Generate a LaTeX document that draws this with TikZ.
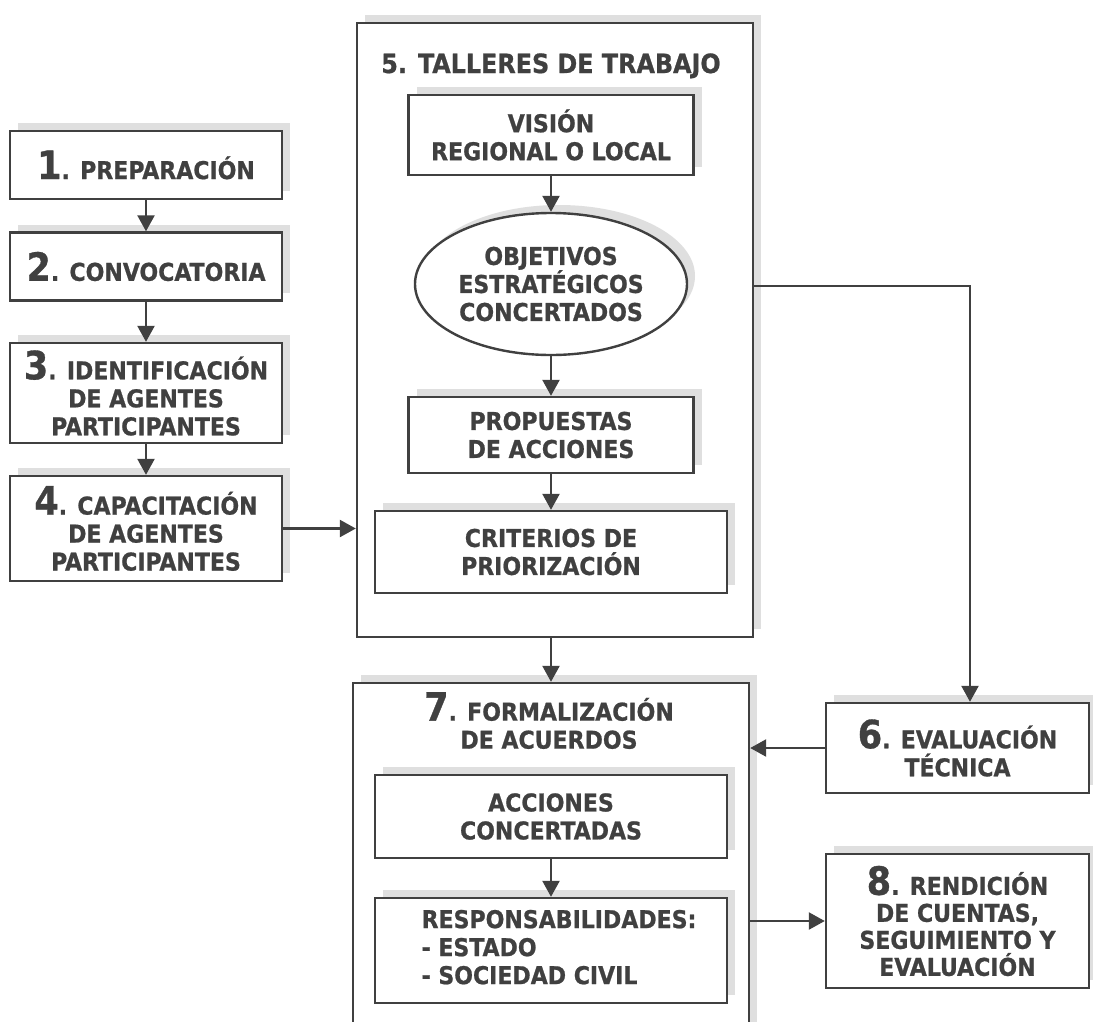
\documentclass[tikz,border=0pt]{standalone}
\usepackage{fontspec}
\setmainfont{DejaVu Sans Condensed}[BoldFeatures={FakeBold=0.8}]
\usetikzlibrary{arrows.meta,shapes.geometric,shadows}
\definecolor{dk}{HTML}{404040}
\definecolor{shg}{HTML}{DFDFDF}
\newcommand{\bnum}[1]{{\fontsize{39}{39}\selectfont #1}}
\begin{document}
\begin{tikzpicture}[x=1pt,y=-1pt,
  box/.style={rectangle, draw=dk, line width=2.4pt, fill=white, inner sep=0pt,
    align=center, text=dk, font=\fontsize{24.5}{28}\selectfont\bfseries,
    drop shadow={shadow xshift=8pt,shadow yshift=8pt,fill=shg,opacity=1}},
  ttl/.style={text=dk, inner sep=0pt, align=center, font=\fontsize{24.5}{28}\selectfont\bfseries},
  arr/.style={draw=dk, line width=2.4pt, -{Triangle[width=17pt,length=16pt]}},
]
\useasboundingbox (0,0) rectangle (1093,1021);
\clip (0,0) rectangle (1093,1021);

% left column
\node[box, minimum width=272pt, minimum height=68pt] (b1) at (146,165) {\bnum{1}. PREPARACIÓN};
\node[box, minimum width=272pt, minimum height=68pt] (b2) at (146,266.5) {\bnum{2}. CONVOCATORIA};
\node[box, minimum width=272pt, minimum height=100pt] (b3) at (146,393) {\bnum{3}. IDENTIFICACIÓN\\DE AGENTES\\PARTICIPANTES};
\node[box, minimum width=272pt, minimum height=105pt] (b4) at (146,528.5) {\bnum{4}. CAPACITACIÓN\\DE AGENTES\\PARTICIPANTES};

% box 5
\node[box, minimum width=396pt, minimum height=614pt] (b5) at (555,330) {};
\node[ttl, anchor=base, font=\fontsize{26.5}{28}\selectfont\bfseries] (t5) at (551,73) {5. TALLERES DE TRABAJO};
\node[box, minimum width=285pt, minimum height=80pt] (vis) at (551,135) {VISIÓN\\REGIONAL O LOCAL};
\node[box, ellipse, minimum width=272pt, minimum height=142pt] (obj) at (551,284) {OBJETIVOS\\ESTRATÉGICOS\\CONCERTADOS};
\node[box, minimum width=285pt, minimum height=76pt] (prop) at (551,435) {PROPUESTAS\\DE ACCIONES};
\node[box, minimum width=352pt, minimum height=82pt] (crit) at (551,552) {CRITERIOS DE\\PRIORIZACIÓN};

% box 7
\node[box, minimum width=396pt, minimum height=357pt] (b7) at (551,861.5) {};
\node[ttl, anchor=north] (t7) at (549,692) {\bnum{7}. FORMALIZACIÓN\\DE ACUERDOS};
\node[box, minimum width=352pt, minimum height=83pt] (acc) at (551,816.5) {ACCIONES\\CONCERTADAS};
\node[box, minimum width=352pt, minimum height=105pt, align=left] (resp) at (551,950.5)
  {\hspace*{16pt}\begin{tabular}{@{}l@{}}RESPONSABILIDADES:\\- ESTADO\\- SOCIEDAD CIVIL\end{tabular}};

% right column
\node[box, minimum width=263pt, minimum height=90pt] (b6) at (957.5,748) {\bnum{6}. EVALUACIÓN\\TÉCNICA};
\node[box, minimum width=263pt, minimum height=134pt, font=\fontsize{24.5}{27}\selectfont\bfseries] (b8) at (957.5,921)
  {\bnum{8}. RENDICIÓN\\DE CUENTAS,\\SEGUIMIENTO Y\\EVALUACIÓN};

\coordinate (k) at (970,286);

% connectors
\draw[arr] (b1.south) -- (b2.north);
\draw[arr] (b2.south) -- (b3.north);
\draw[arr] (b3.south) -- (b4.north);
\draw[arr] (b4.east) -- (b4.east -| b5.west);
\draw[arr] (vis.south) -- (obj.north);
\draw[arr] (obj.south) -- (prop.north);
\draw[arr] (prop.south) -- (crit.north);
\draw[arr] (acc.north |- b5.south) -- (acc.north |- b7.north);
\draw[arr] (acc.south) -- (resp.north);
\draw[arr] (b5.east |- k) -| (k |- b6.north);
\draw[arr] (b6.west) -- (b6.west -| b7.east);
\draw[arr] (b7.east |- b8.west) -- (b8.west);
\end{tikzpicture}
\end{document}
